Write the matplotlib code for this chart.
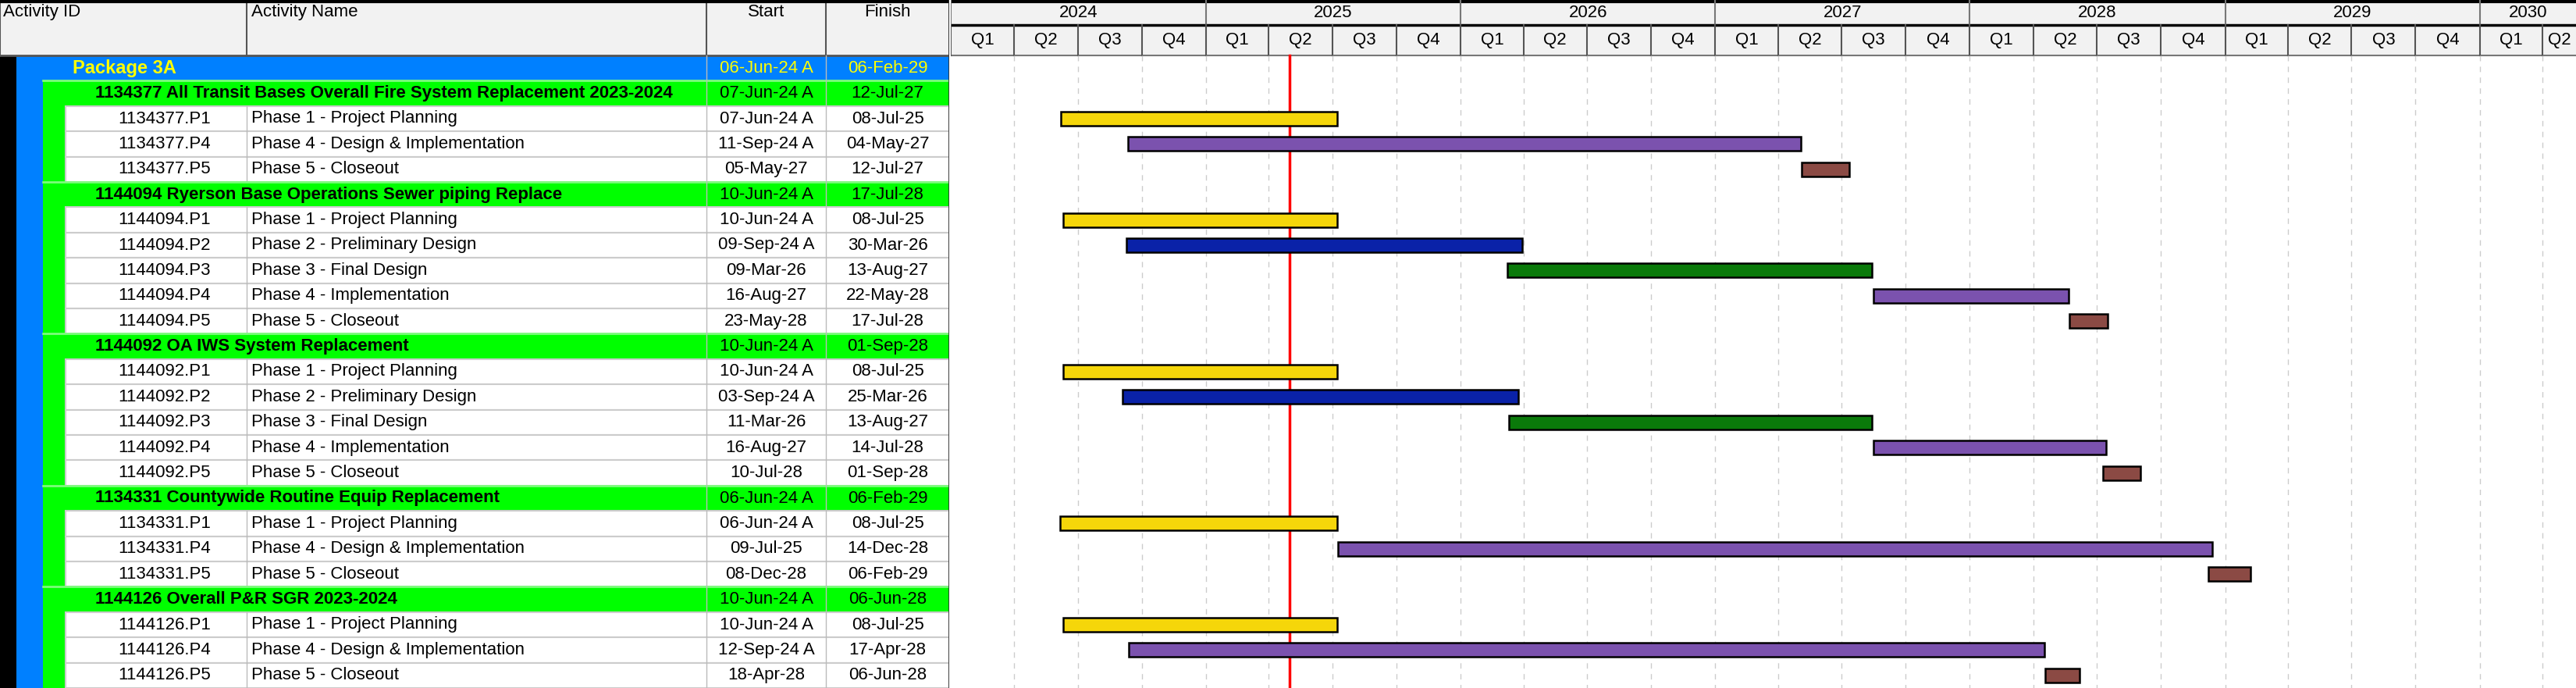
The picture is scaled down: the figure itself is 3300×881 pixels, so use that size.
import numpy as np
import pandas as pd
import matplotlib
matplotlib.use("Agg")
import matplotlib.pyplot as plt
import matplotlib.dates as mdates
from matplotlib.patches import Rectangle

plt.rcParams['font.family'] = ['Liberation Sans Narrow', 'Liberation Sans', 'DejaVu Sans']

# row data: level 0 = package, 1 = project, 2 = activity
levels = [0, 1, 2, 2, 2, 1, 2, 2, 2, 2, 2, 1, 2, 2, 2, 2, 2, 1, 2, 2, 2, 1, 2, 2, 2]
ids = ["Package 3A",
       "1134377 All Transit Bases Overall Fire System Replacement 2023-2024",
       "1134377.P1", "1134377.P4", "1134377.P5",
       "1144094 Ryerson Base Operations Sewer piping Replace",
       "1144094.P1", "1144094.P2", "1144094.P3", "1144094.P4", "1144094.P5",
       "1144092 OA IWS System Replacement",
       "1144092.P1", "1144092.P2", "1144092.P3", "1144092.P4", "1144092.P5",
       "1134331 Countywide Routine Equip Replacement",
       "1134331.P1", "1134331.P4", "1134331.P5",
       "1144126 Overall P&R SGR 2023-2024",
       "1144126.P1", "1144126.P4", "1144126.P5"]
names = ["", "",
         "Phase 1 - Project Planning", "Phase 4 - Design & Implementation", "Phase 5 - Closeout",
         "",
         "Phase 1 - Project Planning", "Phase 2 - Preliminary Design", "Phase 3 - Final Design",
         "Phase 4 - Implementation", "Phase 5 - Closeout",
         "",
         "Phase 1 - Project Planning", "Phase 2 - Preliminary Design", "Phase 3 - Final Design",
         "Phase 4 - Implementation", "Phase 5 - Closeout",
         "",
         "Phase 1 - Project Planning", "Phase 4 - Design & Implementation", "Phase 5 - Closeout",
         "",
         "Phase 1 - Project Planning", "Phase 4 - Design & Implementation", "Phase 5 - Closeout"]
starts = ["06-Jun-24 A", "07-Jun-24 A", "07-Jun-24 A", "11-Sep-24 A", "05-May-27",
          "10-Jun-24 A", "10-Jun-24 A", "09-Sep-24 A", "09-Mar-26", "16-Aug-27", "23-May-28",
          "10-Jun-24 A", "10-Jun-24 A", "03-Sep-24 A", "11-Mar-26", "16-Aug-27", "10-Jul-28",
          "06-Jun-24 A", "06-Jun-24 A", "09-Jul-25", "08-Dec-28",
          "10-Jun-24 A", "10-Jun-24 A", "12-Sep-24 A", "18-Apr-28"]
finishes = ["06-Feb-29", "12-Jul-27", "08-Jul-25", "04-May-27", "12-Jul-27",
            "17-Jul-28", "08-Jul-25", "30-Mar-26", "13-Aug-27", "22-May-28", "17-Jul-28",
            "01-Sep-28", "08-Jul-25", "25-Mar-26", "13-Aug-27", "14-Jul-28", "01-Sep-28",
            "06-Feb-29", "08-Jul-25", "14-Dec-28", "06-Feb-29",
            "06-Jun-28", "08-Jul-25", "17-Apr-28", "06-Jun-28"]
data_date = "2025-05-01"

phase_colors = {"Phase 1": "#F5D60A", "Phase 2": "#0A22A8", "Phase 3": "#0A7A0A",
                "Phase 4": "#7B52AE", "Phase 5": "#8B4A44"}

W, H = 3300, 881
HDR = 71
ROW = (H - HDR) / len(ids)
TABLE_W = 1216
cols = [0, 316, 905, 1058, 1216]
FS = 16

fig = plt.figure(figsize=(W / 100, H / 100), dpi=100)
tab = fig.add_axes([0, 0, TABLE_W / W, 1])
tab.set_xlim(0, TABLE_W)
tab.set_ylim(H, 0)
tab.axis('off')

# header
tab.add_patch(Rectangle((0, 0), TABLE_W, HDR, facecolor="#F2F2F2", edgecolor="none"))
for x in cols:
    tab.plot([x, x], [0, HDR], color="#555555", lw=1.5)
tab.plot([0, TABLE_W], [2, 2], color="black", lw=3)
tab.plot([0, TABLE_W], [HDR, HDR], color="#555555", lw=2)
for txt, x, ha in [("Activity ID", 4, "left"), ("Activity Name", 322, "left"),
                   ("Start", (cols[2] + cols[3]) / 2, "center"),
                   ("Finish", (cols[3] + cols[4]) / 2, "center")]:
    tab.text(x, 5, txt, ha=ha, va="top", fontsize=FS)

# left band strips
tab.add_patch(Rectangle((0, HDR), 21, H - HDR, facecolor="black", edgecolor="none"))
tab.add_patch(Rectangle((21, HDR), TABLE_W - 21, H - HDR, facecolor="#0080FF", edgecolor="none"))
first_proj = HDR + ROW
tab.add_patch(Rectangle((55, first_proj), TABLE_W - 55, H - first_proj, facecolor="#00FF00",
                        edgecolor="none"))

for i, lvl in enumerate(levels):
    y0 = HDR + i * ROW
    yc = y0 + ROW / 2
    tcolor = "black"
    if lvl == 0:
        tab.text(93, yc, ids[i], ha="left", va="center", fontsize=FS + 1, fontweight="bold",
                 color="#FFFF00")
        tcolor = "#FFFF00"
    elif lvl == 1:
        tab.plot([55, TABLE_W], [y0, y0], color="#7CFC7C", lw=2)
        tab.text(122, yc, ids[i], ha="left", va="center", fontsize=FS, fontweight="bold")
    else:
        tab.add_patch(Rectangle((84, y0), TABLE_W - 84, ROW, facecolor="white",
                                edgecolor="#CCCCCC", lw=1.5))
        tab.plot([cols[1], cols[1]], [y0, y0 + ROW], color="#BBBBBB", lw=1)
        tab.text(151, yc, ids[i], ha="left", va="center", fontsize=FS)
        tab.text(322, yc, names[i], ha="left", va="center", fontsize=FS)
    tab.text((cols[2] + cols[3]) / 2, yc, starts[i], ha="center", va="center", fontsize=FS, color=tcolor)
    tab.text((cols[3] + cols[4]) / 2, yc, finishes[i], ha="center", va="center", fontsize=FS, color=tcolor)
for x in cols[2:4]:
    tab.plot([x, x], [HDR, H], color="#BBBBBB", lw=1, zorder=3)
tab.plot([TABLE_W, TABLE_W], [0, H], color="#333333", lw=2)

# gantt
g = fig.add_axes([(TABLE_W + 2) / W, 0, 1 - (TABLE_W + 2) / W, 1])
x0 = mdates.date2num(pd.Timestamp("2024-01-01"))
x1 = mdates.date2num(pd.Timestamp("2030-05-19"))
g.set_xlim(x0, x1)
g.set_ylim(H, 0)
g.axis('off')
g.add_patch(Rectangle((x0, 0), x1 - x0, HDR, facecolor="#F2F2F2", edgecolor="none"))
g.plot([x0, x1], [2, 2], color="black", lw=3)
g.plot([x0, x1], [32, 32], color="black", lw=2.5)
g.plot([x0, x1], [HDR, HDR], color="#777777", lw=1.5)

for yr in range(2024, 2031):
    ys = mdates.date2num(pd.Timestamp(f"{yr}-01-01"))
    ye = mdates.date2num(pd.Timestamp(f"{yr + 1}-01-01"))
    g.plot([ys, ys], [0, 32], color="#777777", lw=1.5)
    g.text(min((ys + ye) / 2, (ys + x1) / 2), 16, str(yr), ha="center", va="center", fontsize=FS)
    for q in range(4):
        qs = mdates.date2num(pd.Timestamp(f"{yr}-{3 * q + 1:02d}-01"))
        qe = mdates.date2num(pd.Timestamp(f"{yr}-{3 * q + 4:02d}-01")) if q < 3 else ye
        if qs >= x1:
            continue
        g.plot([qs, qs], [32, HDR], color="#555555", lw=1.5)
        if qs > x0:
            g.plot([qs, qs], [HDR, H], color="#CCCCCC", lw=1, ls=(0, (5, 5)))
        g.text((qs + min(qe, x1)) / 2, 52, f"Q{q + 1}", ha="center", va="center", fontsize=FS)

for i, lvl in enumerate(levels):
    if lvl != 2:
        continue
    s = mdates.date2num(pd.to_datetime(starts[i].replace(" A", ""), format="%d-%b-%y"))
    f = mdates.date2num(pd.to_datetime(finishes[i], format="%d-%b-%y"))
    yc = HDR + i * ROW + ROW / 2
    g.add_patch(Rectangle((s, yc - 9), f - s, 18, facecolor=phase_colors[names[i][:7]],
                          edgecolor="black", lw=1.8, zorder=3))

dd = mdates.date2num(pd.Timestamp(data_date))
g.plot([dd, dd], [HDR, H], color="#FF0000", lw=2.5, zorder=2)

fig.savefig("out.png", dpi=100)
